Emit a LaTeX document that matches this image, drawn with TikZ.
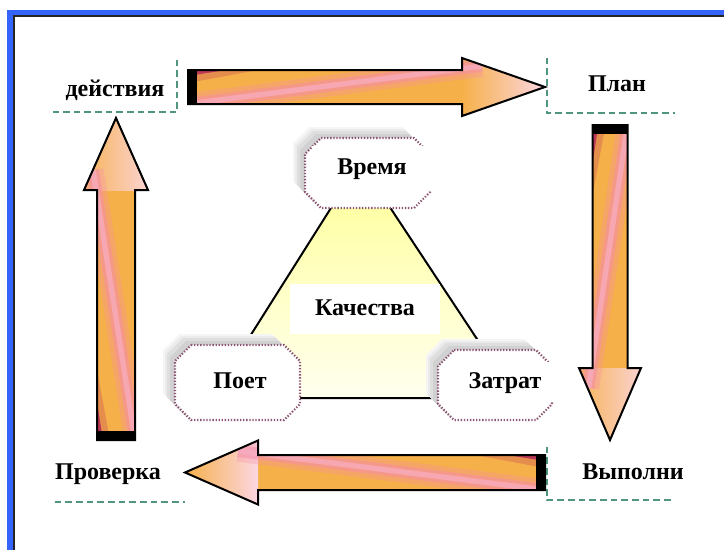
\documentclass[tikz,border=0pt]{standalone}
\usepackage{fontspec}
\setmainfont{Liberation Serif}
\usetikzlibrary{calc}
\definecolor{frameblue}{RGB}{52,100,250}
\definecolor{arrorange}{RGB}{246,176,74}
\definecolor{arrpink}{RGB}{245,140,170}
\definecolor{arrmag}{RGB}{170,20,90}
\definecolor{dashgreen}{RGB}{80,150,125}
\definecolor{dotpurple}{RGB}{140,85,115}
\definecolor{triyellow}{RGB}{255,255,150}
\tikzset{
  lbl/.style={fill=white, font=\fontsize{18}{21}\selectfont\bfseries, inner sep=0pt,
              text height=12.5pt, text depth=3pt},
  dashedge/.style={draw=dashgreen, line width=1.6pt, dash pattern=on 5pt off 3pt},
  octedge/.style={draw=dotpurple, line width=1.6pt, dash pattern=on 1pt off 1.3pt, fill=white},
  octo/.style n args={3}{insert path={({-#1+#3},{-#2}) -- ({#1-#3},{-#2}) -- (#1,{-#2+#3})
     -- (#1,{#2-#3}) -- ({#1-#3},#2) -- ({-#1+#3},#2) -- (-#1,{#2-#3}) -- (-#1,{-#2+#3}) -- cycle}},
}
% #1,#2 tail position; #3 angle; #4 length; #5 head length; #6 shaft half width; #7 head half width; #8 magenta side
\newcommand\blkarrow[8]{%
\begin{scope}[shift={(#1,#2)}, rotate=#3]
  \begin{scope}
    \clip (0,-#6) -- ({#4-#5},-#6) -- ({#4-#5},-#7) -- (#4,0) -- ({#4-#5},#7) -- ({#4-#5},#6) -- (0,#6) -- cycle;
    \fill[arrorange] (0,-40) rectangle (#4,40);
    \shade[left color=arrorange, right color=arrpink!35] ({#4-#5},-40) rectangle (#4,40);
    \draw[arrpink, line width=16pt, opacity=0.3] (0,{-1*(#8)*#6}) -- ({#4-#5+20},{(#8)*(#6+4)});
    \draw[arrpink, line width=9pt, opacity=0.5] (0,{-1*(#8)*#6}) -- ({#4-#5+20},{(#8)*(#6+4)});
    \draw[arrpink!70!white, line width=4pt, opacity=0.7] (0,{-1*(#8)*#6}) -- ({#4-#5+20},{(#8)*(#6+4)});
    \fill[arrmag, opacity=0.22] (0,{(#8)*#6}) -- (70,{(#8)*#6}) -- (0,{(#8)*(#6-13)}) -- cycle;
    \fill[arrmag, opacity=0.7] (0,{(#8)*#6}) -- (38,{(#8)*#6}) -- (0,{(#8)*(#6-6)}) -- cycle;
  \end{scope}
  \draw[line width=1.5pt, line join=miter] (0,-#6) -- ({#4-#5},-#6) -- ({#4-#5},-#7) -- (#4,0)
     -- ({#4-#5},#7) -- ({#4-#5},#6) -- (0,#6) -- cycle;
  \fill[black] (0,-#6) rectangle (9,#6);
\end{scope}}
\newcommand\octagon[4]{%
\begin{scope}[shift={(#1,#2)}]
  \path[fill=gray!8, shift={(-12,-11)}, octo={#3}{#4}{16}];
  \path[fill=gray!16, shift={(-10,-9)}, octo={#3}{#4}{16}];
  \path[fill=gray!26, shift={(-8,-7)}, octo={#3}{#4}{16}];
  \path[fill=gray!36, shift={(-5,-4)}, octo={#3}{#4}{16}];
  \path[octedge, octo={#3}{#4}{16}];
\end{scope}}
\begin{document}
\begin{tikzpicture}[x=0.75pt,y=-0.75pt]
\useasboundingbox (0,0) rectangle (724,550);
\fill[white] (0,0) rectangle (724,550);
\fill[frameblue] (7,10) rectangle (724,550);
\fill[black!85] (13,15) rectangle (724,550);
\fill[white] (15,17) rectangle (724,550);

% central triangle
\coordinate (apex) at (360,162);
\coordinate (bl) at (211,398);
\coordinate (br) at (516,398);
\shade[top color=triyellow, bottom color=triyellow!15] (apex) -- (bl) -- (br) -- cycle;
\draw[line width=1.5pt] (apex) -- (bl) -- (br) -- cycle;

% octagons
\octagon{367.5}{173}{62.5}{35}
\octagon{237.5}{382.5}{62.5}{37.5}
\octagon{495}{385}{57}{35}

\node[lbl, minimum width=120*0.75pt, minimum height=44*0.75pt] (vremya) at (372,168) {Время};
\node[lbl, minimum width=115*0.75pt, minimum height=36*0.75pt] (poet) at (240,382) {Поет};
\node[lbl, minimum width=122*0.75pt, minimum height=40*0.75pt] (zatrat) at (505,382) {Затрат};
\node[lbl, minimum width=150*0.75pt, minimum height=50*0.75pt] (kach) at (365,309) {Качества};

% label boxes
\node[lbl, minimum width=124*0.75pt, minimum height=52*0.75pt, text height=18pt, text depth=2pt] (deistv) at (115,86) {действия};
\draw[dashedge] (deistv.north east) -- (deistv.south east) -- (deistv.south west);

\node[lbl, minimum width=140*0.75pt, minimum height=55*0.75pt] (plan) at (617,85.5) {План};
\draw[dashedge] (plan.north west) -- (plan.south west) -- ($(plan.south west)+(128,0)$);

\node[lbl, minimum width=172*0.75pt, minimum height=53*0.75pt] (vyp) at (633,473.5) {Выполни};
\draw[dashedge] (vyp.north west) -- (vyp.south west) -- ($(vyp.south west)+(126,0)$);

\node[lbl, minimum width=154*0.75pt, minimum height=57*0.75pt] (prov) at (108,473.5) {Проверка};
\draw[dashedge] ($(prov.south west)+(24,0)$) -- (prov.south east);

% block arrows
\blkarrow{188}{87}{0}{357}{83}{17}{29}{-1}
\blkarrow{610}{125}{-90}{315}{72}{17.5}{31}{1}
\blkarrow{545}{472.5}{180}{360}{73}{17.5}{32}{1}
\blkarrow{116}{440}{90}{322}{72}{19}{32}{-1}
\end{tikzpicture}
\end{document}
